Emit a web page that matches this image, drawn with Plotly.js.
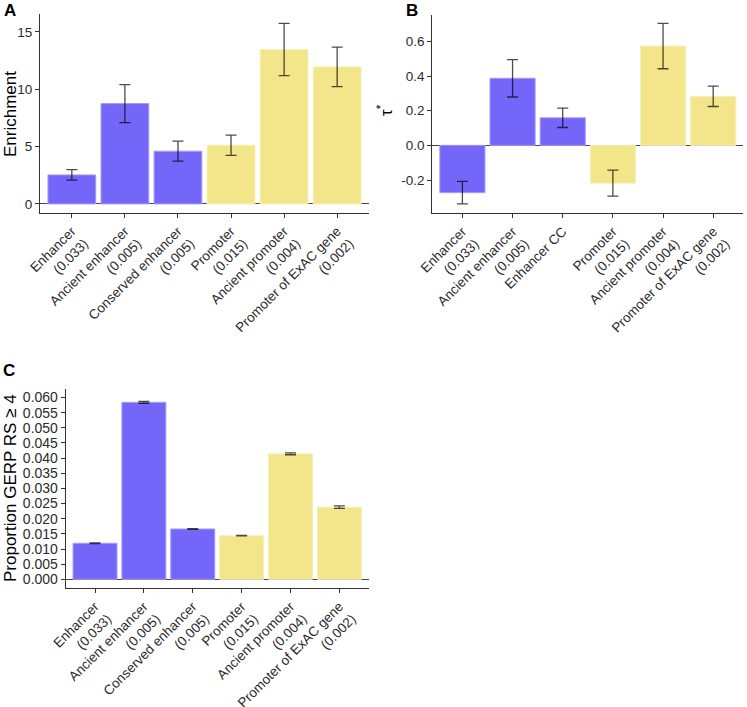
<!DOCTYPE html>
<html>
<head>
<meta charset="utf-8">
<script src="https://cdn.plot.ly/plotly-3.0.1.min.js"></script>
<style>html,body{margin:0;padding:0;background:#fff;}#chart{width:747px;height:707px;}</style>
</head>
<body>
<div id="chart"></div>
<script>
// ---- Data ----
const labelsA = ["Enhancer<br>(0.033)", "Ancient enhancer<br>(0.005)", "Conserved enhancer<br>(0.005)", "Promoter<br>(0.015)", "Ancient promoter<br>(0.004)", "Promoter of ExAC gene<br>(0.002)"];
const labelsB = ["Enhancer<br>(0.033)", "Ancient enhancer<br>(0.005)", "Enhancer CC", "Promoter<br>(0.015)", "Ancient promoter<br>(0.004)", "Promoter of ExAC gene<br>(0.002)"];
const labelsC = labelsA;
const groups = ["enhancer", "enhancer", "enhancer", "promoter", "promoter", "promoter"];

const enrichment = [2.53, 8.75, 4.60, 5.12, 13.46, 11.95];
const enrichmentErr = [0.46, 1.66, 0.87, 0.88, 2.28, 1.72];

const tauStar = [-0.273, 0.387, 0.159, -0.218, 0.573, 0.283];
const tauStarErr = [0.065, 0.108, 0.056, 0.075, 0.131, 0.059];

const gerpProp = [0.0119, 0.0584, 0.0166, 0.0144, 0.0414, 0.0238];
const gerpErr = [0.00008, 0.0003, 0.00012, 0.00008, 0.0003, 0.0004];

// ---- Styles ----
const fillColors = {enhancer: "#7366F8", promoter: "#F3E68A"};
const edgeColors = {enhancer: "#A69CF8", promoter: "#F7EFB8"};
const W = 747, H = 707;
const fx = p => p / W;
const fy = p => 1 - p / H;

function barTrace(labels, vals, errs, xa, ya) {
  return {
    type: "bar", x: labels, y: vals, xaxis: xa, yaxis: ya, width: 0.9,
    marker: {color: groups.map(g => fillColors[g]), line: {color: groups.map(g => edgeColors[g]), width: 1}},
    error_y: {type: "data", array: errs, visible: true, color: "rgba(0,0,0,0.7)", thickness: 1.3, width: 5.5},
    hoverinfo: "skip", showlegend: false
  };
}

const tickFont = {family: "Liberation Sans, Arial, sans-serif", size: 13.5, color: "#2b2b2b"};
const tickFontC = {family: "Liberation Sans, Arial, sans-serif", size: 14, color: "#2b2b2b"};
function xAxis(domain, anchor) {
  return {domain: domain, anchor: anchor, type: "category", range: [-0.6, 5.6], showline: true, linecolor: "#333", linewidth: 1,
    ticks: "outside", ticklen: 4, tickcolor: "#333", tickangle: -45, tickfont: tickFont, showgrid: false, zeroline: false, fixedrange: true};
}
function yAxis(domain, anchor, range, tickvals, ticktext, font) {
  return {domain: domain, anchor: anchor, range: range, showline: true, linecolor: "#333", linewidth: 1,
    ticks: "outside", ticklen: 4, tickcolor: "#333", tickfont: font, showgrid: false,
    zeroline: true, zerolinecolor: "#444", zerolinewidth: 1, tickvals: tickvals, ticktext: ticktext, fixedrange: true};
}

const data = [
  barTrace(labelsA, enrichment, enrichmentErr, "x", "y"),
  barTrace(labelsB, tauStar, tauStarErr, "x2", "y2"),
  barTrace(labelsC, gerpProp, gerpErr, "x3", "y3")
];

const aTicks = [0, 5, 10, 15];
const bTicks = [-0.2, 0, 0.2, 0.4, 0.6];
const cTicks = [0, 0.005, 0.01, 0.015, 0.02, 0.025, 0.03, 0.035, 0.04, 0.045, 0.05, 0.055, 0.06];

const titleFont = {family: "Liberation Sans, Arial, sans-serif", size: 17, color: "#000"};
const letterFont = {family: "Liberation Sans, Arial, sans-serif", size: 17, color: "#000"};

const layout = {
  width: W, height: H, margin: {l: 0, r: 0, t: 0, b: 0},
  paper_bgcolor: "#fff", plot_bgcolor: "rgba(0,0,0,0)",
  bargap: 0.1,
  xaxis: xAxis([fx(40), fx(369)], "y"),
  yaxis: yAxis([fy(213), fy(14)], "x", [-0.79, 16.56], aTicks, aTicks.map(String), tickFont),
  xaxis2: xAxis([fx(432.3), fx(743.3)], "y2"),
  yaxis2: yAxis([fy(213.3), fy(15)], "x2", [-0.392, 0.752], bTicks, bTicks.map(v => v.toFixed(1)), tickFont),
  xaxis3: xAxis([fx(65.7), fx(368.7)], "y3"),
  yaxis3: yAxis([fy(588.3), fy(389.3)], "x3", [-0.00297, 0.0627], cTicks, cTicks.map(v => v.toFixed(3)), tickFontC),
  annotations: [
    {text: "<b>A</b>", x: fx(9.5), y: fy(10), xref: "paper", yref: "paper", showarrow: false, font: letterFont, xanchor: "center", yanchor: "middle"},
    {text: "<b>B</b>", x: fx(412), y: fy(11), xref: "paper", yref: "paper", showarrow: false, font: letterFont, xanchor: "center", yanchor: "middle"},
    {text: "<b>C</b>", x: fx(9), y: fy(370), xref: "paper", yref: "paper", showarrow: false, font: letterFont, xanchor: "center", yanchor: "middle"},
    {text: "Enrichment", x: fx(10), y: fy(114), xref: "paper", yref: "paper", showarrow: false, textangle: -90, font: titleFont, xanchor: "center", yanchor: "middle"},
    {text: "τ<sup>*</sup>", x: fx(385), y: fy(110), xref: "paper", yref: "paper", showarrow: false, textangle: -90, font: titleFont, xanchor: "center", yanchor: "middle"},
    {text: "Proportion GERP RS ≥ 4", x: fx(10), y: fy(488), xref: "paper", yref: "paper", showarrow: false, textangle: -90, font: titleFont, xanchor: "center", yanchor: "middle"}
  ]
};

Plotly.newPlot("chart", data, layout, {displayModeBar: false, staticPlot: true});
</script>
</body>
</html>
